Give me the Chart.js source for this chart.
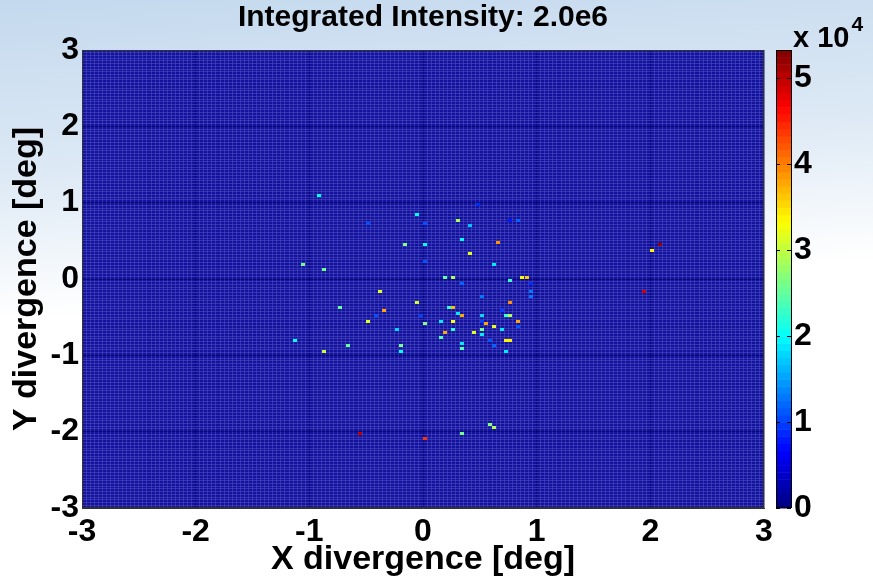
<!DOCTYPE html>
<html>
<head>
<meta charset="utf-8">
<script src="https://cdn.jsdelivr.net/npm/chart.js@4.4.1/dist/chart.umd.min.js"></script>
<style>
    body { margin: 0; background: #fff; }
</style>
</head>
<body>
<canvas id="divergenceChart" width="873" height="580"></canvas>
<script>
// non-empty bins: X / Y divergence [deg] and counts
const spotX = [-0.90, -0.06, -0.48, 0.00, 0.30, 0.48, 0.42, 0.75, 0.84, -0.15,
    0.03, 0.33, 0.66, 0.42, 0.03, 0.63, -1.05, -0.87, 0.18, 0.27,
    0.75, 0.87, 0.90, 0.35, 0.96, -0.39, 0.93, 0.93, 0.53, 0.75,
    -0.06, 0.27, 0.24, -0.72, -0.33, 0.30, 0.33, 0.71, -0.42, -0.03,
    -0.48, 0.15, 0.27, 0.53, 0.72, 0.78, 0.84, 0.50, 0.00, 0.57,
    0.63, 0.84, -0.24, 0.27, 0.53, 0.69, 0.21, 0.45, 0.53, 0.15,
    0.73, 0.78, 0.60, -1.11, 0.35, 0.63, -0.66, -0.21, -0.87, -0.21,
    0.33, 0.72, 2.03, 2.09, 1.94, 0.60, 0.63, 0.35, 0.03, -0.57];
const spotY = [1.09, 0.84, 0.72, 0.72, 0.78, 0.99, 0.69, 0.78, 0.75, 0.45,
    0.45, 0.51, 0.48, 0.33, 0.24, 0.18, 0.21, 0.12, 0.03, 0.03,
    -0.03, 0.00, 0.03, -0.06, -0.06, -0.17, -0.17, -0.24, -0.24, -0.30,
    -0.30, -0.36, -0.39, -0.39, -0.42, -0.45, -0.48, -0.42, -0.50, -0.48,
    -0.54, -0.54, -0.54, -0.50, -0.50, -0.50, -0.54, -0.54, -0.60, -0.60,
    -0.63, -0.63, -0.66, -0.66, -0.66, -0.66, -0.69, -0.69, -0.72, -0.78,
    -0.81, -0.81, -0.81, -0.81, -0.84, -0.87, -0.87, -0.87, -0.93, -0.93,
    -0.90, -0.93, 0.39, 0.45, -0.15, -1.92, -1.95, -2.03, -2.10, -2.03];
const spotCounts = [20000, 20000, 11000, 11000, 29000, 9000, 17000, 8000, 12000, 27000,
    20000, 20000, 39000, 32000, 11000, 19000, 26000, 26000, 25000, 29000,
    23000, 33000, 36000, 12000, 9000, 32000, 13000, 13000, 13000, 39000,
    31000, 37000, 22000, 25000, 38000, 19000, 38000, 10000, 11000, 10000,
    32000, 19000, 33000, 18000, 23000, 29000, 38000, 10000, 27000, 38000,
    32000, 11000, 18000, 22000, 26000, 19000, 38000, 32000, 19000, 24000,
    34000, 34000, 11000, 20000, 19000, 12000, 25000, 26000, 30000, 20000,
    24000, 19000, 34000, 52000, 49000, 27000, 29000, 26000, 44000, 50000];

const axisTicks = [-3, -2, -1, 0, 1, 2, 3];
const colorbarTicks = [0, 1, 2, 3, 4, 5]; // x 10^4
const colorMax = 53300;
const binsPerDeg = 28;

Chart.defaults.font.family = "'Liberation Sans', Arial, sans-serif";
Chart.defaults.font.weight = "bold";
Chart.defaults.color = "#000";

// matlab jet
function jet(t) {
    const c = v => Math.round(255 * Math.max(0, Math.min(1, v)));
    return `rgb(${c(1.5 - Math.abs(4 * t - 3))},${c(1.5 - Math.abs(4 * t - 2))},${c(1.5 - Math.abs(4 * t - 1))})`;
}

// bin edges for the mesh
const meshEdges = [];
for (let k = -3 * binsPerDeg; k <= 3 * binsPerDeg; k++) meshEdges.push(k / binsPerDeg);

const binCenter = v => (Math.floor(v * binsPerDeg) + 0.5) / binsPerDeg;
const cells = spotX.map((x, i) => ({ x: binCenter(x), y: binCenter(spotY[i]) }));

const cellCache = {};
function cellImage(chart, counts) {
    const xs = chart.scales.x, ys = chart.scales.y;
    const w = Math.max(1, Math.round(Math.abs(xs.getPixelForValue(1 / binsPerDeg) - xs.getPixelForValue(0))));
    const h = Math.max(1, Math.round(Math.abs(ys.getPixelForValue(1 / binsPerDeg) - ys.getPixelForValue(0))));
    const color = jet(counts / colorMax);
    const key = color + w + "x" + h;
    if (!cellCache[key]) {
        const cv = document.createElement("canvas");
        cv.width = w;
        cv.height = h;
        const c = cv.getContext("2d");
        c.fillStyle = color;
        c.fillRect(0, 0, w, h);
        cellCache[key] = cv;
    }
    return cellCache[key];
}

const isMajor = v => axisTicks.includes(v);

function meshAxis(titleText, fitSize) {
    return {
        type: "linear",
        min: -3,
        max: 3,
        afterBuildTicks: scale => { scale.ticks = meshEdges.map(v => ({ value: v })); },
        afterFit: scale => {
            if (scale.isHorizontal()) scale.height = fitSize; else scale.width = fitSize;
        },
        ticks: {
            autoSkip: false,
            maxRotation: 0,
            font: { size: 32 },
            padding: 3,
            callback: v => isMajor(v) ? String(v) : ""
        },
        grid: {
            drawTicks: false,
            lineWidth: 1,
            color: ctx => isMajor(ctx.tick.value) ? "rgba(0,0,80,0.45)" : "rgba(75,75,195,0.6)"
        },
        border: { display: true, color: "#333", width: 1 },
        title: {
            display: true,
            text: titleText,
            font: { size: 34 },
            padding: 0
        }
    };
}

const xAxis = meshAxis("X divergence [deg]", 72);
xAxis.ticks.padding = 5;
const yAxis = meshAxis("Y divergence [deg]", 82);
yAxis.title.padding = { top: 6, bottom: 0 };

const backdrop = {
    id: "backdrop",
    beforeDraw(chart) {
        const { ctx, width, height, chartArea } = chart;
        ctx.save();
        const g = ctx.createLinearGradient(0, 0, 40, height);
        g.addColorStop(0, "#c4d9ee");
        g.addColorStop(0.3, "#dde9f5");
        g.addColorStop(0.55, "#ffffff");
        ctx.fillStyle = g;
        ctx.fillRect(0, 0, width, height);
        // empty bins = lowest jet colour
        ctx.fillStyle = "#12129c";
        ctx.fillRect(chartArea.left, chartArea.top, chartArea.right - chartArea.left, chartArea.bottom - chartArea.top);
        ctx.restore();
    },
    afterDraw(chart) {
        const { ctx, chartArea } = chart;
        const yc = chart.scales.yc;
        ctx.save();
        ctx.strokeStyle = "#333";
        ctx.lineWidth = 1;
        ctx.strokeRect(chartArea.left + 0.5, chartArea.top + 0.5, chartArea.right - chartArea.left - 1, chartArea.bottom - chartArea.top - 1);

        // colorbar
        const left = chartArea.right + 12, barW = 15;
        const steps = 64;
        for (let i = 0; i < steps; i++) {
            const y0 = yc.getPixelForValue(i / steps * colorMax);
            const y1 = yc.getPixelForValue((i + 1) / steps * colorMax);
            ctx.fillStyle = jet((i + 0.5) / steps);
            ctx.fillRect(left, y1, barW, y0 - y1 + 0.5);
        }
        const top = yc.getPixelForValue(colorMax), bottom = yc.getPixelForValue(0);
        ctx.strokeStyle = "#000";
        ctx.strokeRect(left + 0.5, top + 0.5, barW, bottom - top - 1);
        colorbarTicks.forEach(t => {
            const y = Math.round(yc.getPixelForValue(t * 1e4)) + 0.5;
            ctx.beginPath();
            ctx.moveTo(left, y); ctx.lineTo(left + 4, y);
            ctx.moveTo(left + barW - 4, y); ctx.lineTo(left + barW, y);
            ctx.stroke();
        });

        // exponent label
        ctx.fillStyle = "#000";
        ctx.textBaseline = "alphabetic";
        ctx.font = "bold 29px 'Liberation Sans', Arial, sans-serif";
        const baseW = ctx.measureText("x 10").width;
        ctx.fillText("x 10", left + 17, 47);
        ctx.font = "bold 21px 'Liberation Sans', Arial, sans-serif";
        ctx.fillText("4", left + 17 + baseW + 2, 31);
        ctx.restore();
    }
};

new Chart(document.getElementById("divergenceChart"), {
    type: "scatter",
    data: {
        datasets: [{
            label: "Intensity",
            data: cells,
            pointStyle: ctx => cellImage(ctx.chart, spotCounts[ctx.dataIndex]),
            pointRadius: 2,
            pointHoverRadius: 2
        }]
    },
    options: {
        responsive: false,
        animation: false,
        events: [],
        layout: { padding: 0 },
        scales: {
            x: Object.assign(xAxis, { position: "bottom" }),
            y: Object.assign(yAxis, { position: "left" }),
            yc: {
                type: "linear",
                position: "right",
                min: 0,
                max: colorMax,
                afterBuildTicks: scale => { scale.ticks = colorbarTicks.map(v => ({ value: v * 1e4 })); },
                afterFit: scale => { scale.width = 109; },
                grid: { display: false, drawTicks: false },
                border: { display: false },
                ticks: {
                    font: { size: 32 },
                    padding: 30,
                    callback: v => String(v / 1e4)
                }
            }
        },
        plugins: {
            legend: { display: false },
            tooltip: { enabled: false },
            title: {
                display: true,
                text: "Integrated Intensity: 2.0e6",
                fullSize: false,
                font: { size: 30 },
                padding: { top: 0, bottom: 14 }
            }
        }
    },
    plugins: [backdrop]
});
</script>
</body>
</html>
